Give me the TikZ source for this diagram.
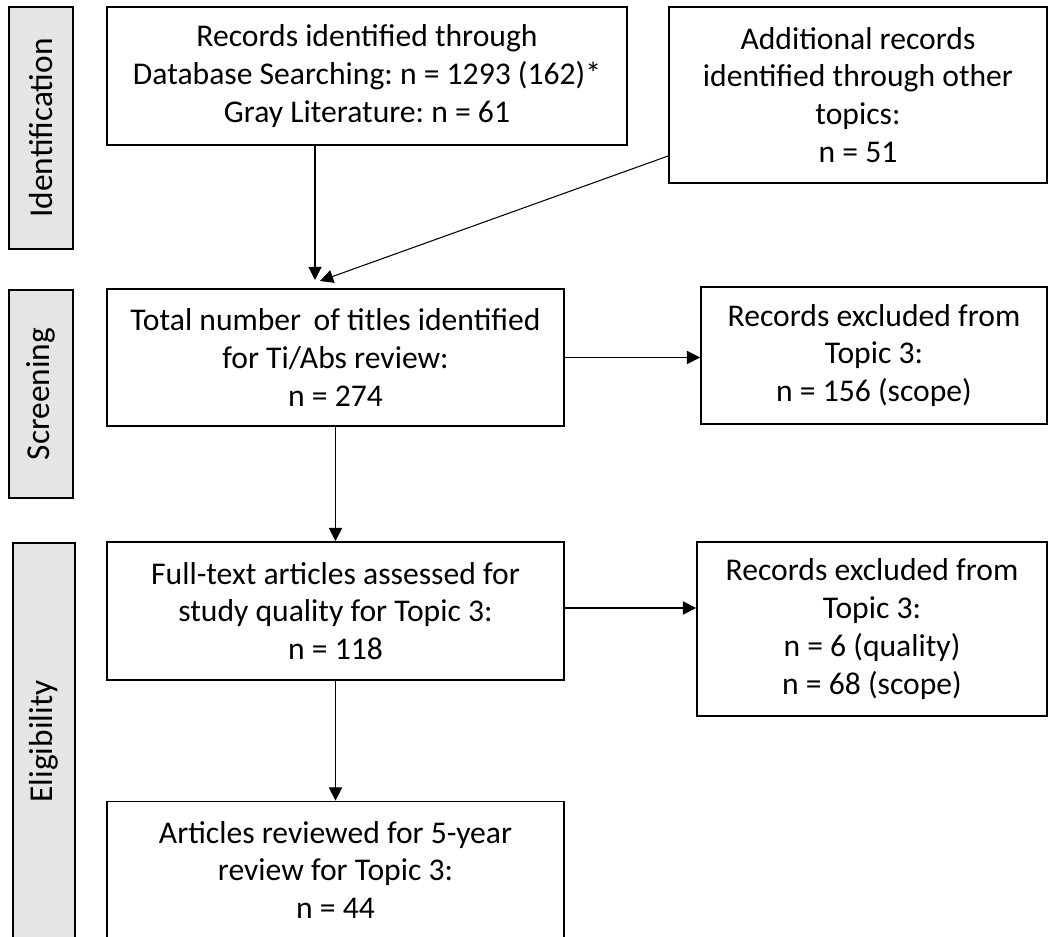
\documentclass[tikz,border=0pt]{standalone}
\usepackage{fontspec}
\setmainfont{Carlito}
\usetikzlibrary{arrows.meta}
\frenchspacing

\begin{document}
\begin{tikzpicture}[
  every node/.style={font=\fontsize{18}{21.5}\selectfont},
  box/.style={draw, line width=1pt, align=center, inner sep=0pt},
  phase/.style={draw, line width=1pt, fill=gray!20, rotate=90, inner sep=0pt,
    font=\fontsize{19}{23}\selectfont},
  flow/.style={line width=0.6pt, -{Triangle[length=7.5pt,width=7.5pt]}}
]
  \useasboundingbox (0,0) rectangle (20.98,-18.74);

  % Stages
  \node[phase, minimum width=4.84cm, minimum height=1.28cm] (ident)
    at (0.82,-2.56) {Identification};
  \node[phase, minimum width=4.16cm, minimum height=1.28cm] (screen)
    at (0.82,-7.88) {Screening};
  \node[phase, minimum width=7.94cm, minimum height=1.24cm] (elig)
    at (0.88,-14.83) {Eligibility};

  % Identification
  \node[box, minimum width=10.4cm, minimum height=2.76cm] (records)
    at (7.34,-1.52)
    {Records identified through\\Database Searching: n = 1293 (162)*\\Gray Literature: n = 61};
  \node[box, minimum width=7.56cm, minimum height=3.52cm] (other)
    at (17.16,-1.9)
    {Additional records\\identified through other\\topics:\\n = 51};

  % Screening
  \node[box, minimum width=9.14cm, minimum height=2.74cm] (titles)
    at (6.71,-7.15)
    {Total number\ \,of titles identified\\for Ti/Abs review:\\n = 274};
  \node[box, minimum width=6.92cm, minimum height=2.74cm] (exscope)
    at (17.48,-7.11)
    {Records excluded from\\Topic 3:\\n = 156 (scope)};

  % Eligibility
  \node[box, minimum width=9.14cm, minimum height=2.76cm] (fulltext)
    at (6.71,-12.22)
    {Full-text articles assessed for\\study quality for Topic 3:\\n = 118};
  \node[box, minimum width=7.0cm, minimum height=3.48cm] (exquality)
    at (17.44,-12.58)
    {Records excluded from\\Topic 3:\\n = 6 (quality)\\n = 68 (scope)};
  \node[box, minimum width=9.14cm, minimum height=2.74cm] (reviewed)
    at (6.71,-17.4)
    {Articles reviewed for 5-year\\review for Topic 3:\\n = 44};

  % Arrows
  \coordinate (mergea) at (6.3,-5.6);
  \coordinate (mergeb) at (6.4,-5.62);
  \draw[flow] (records.south -| mergea) -- (mergea);
  \draw[flow] ([yshift=-1.22cm]other.west) -- (mergeb);

  \draw[flow] (titles.east) -- (titles.east -| exscope.west);
  \draw[flow] (titles.south) -- (fulltext.north);
  \draw[flow] ([yshift=0.06cm]fulltext.east) -- ([yshift=0.06cm]fulltext.east -| exquality.west);
  \draw[flow] (fulltext.south) -- (reviewed.north);
\end{tikzpicture}
\end{document}
